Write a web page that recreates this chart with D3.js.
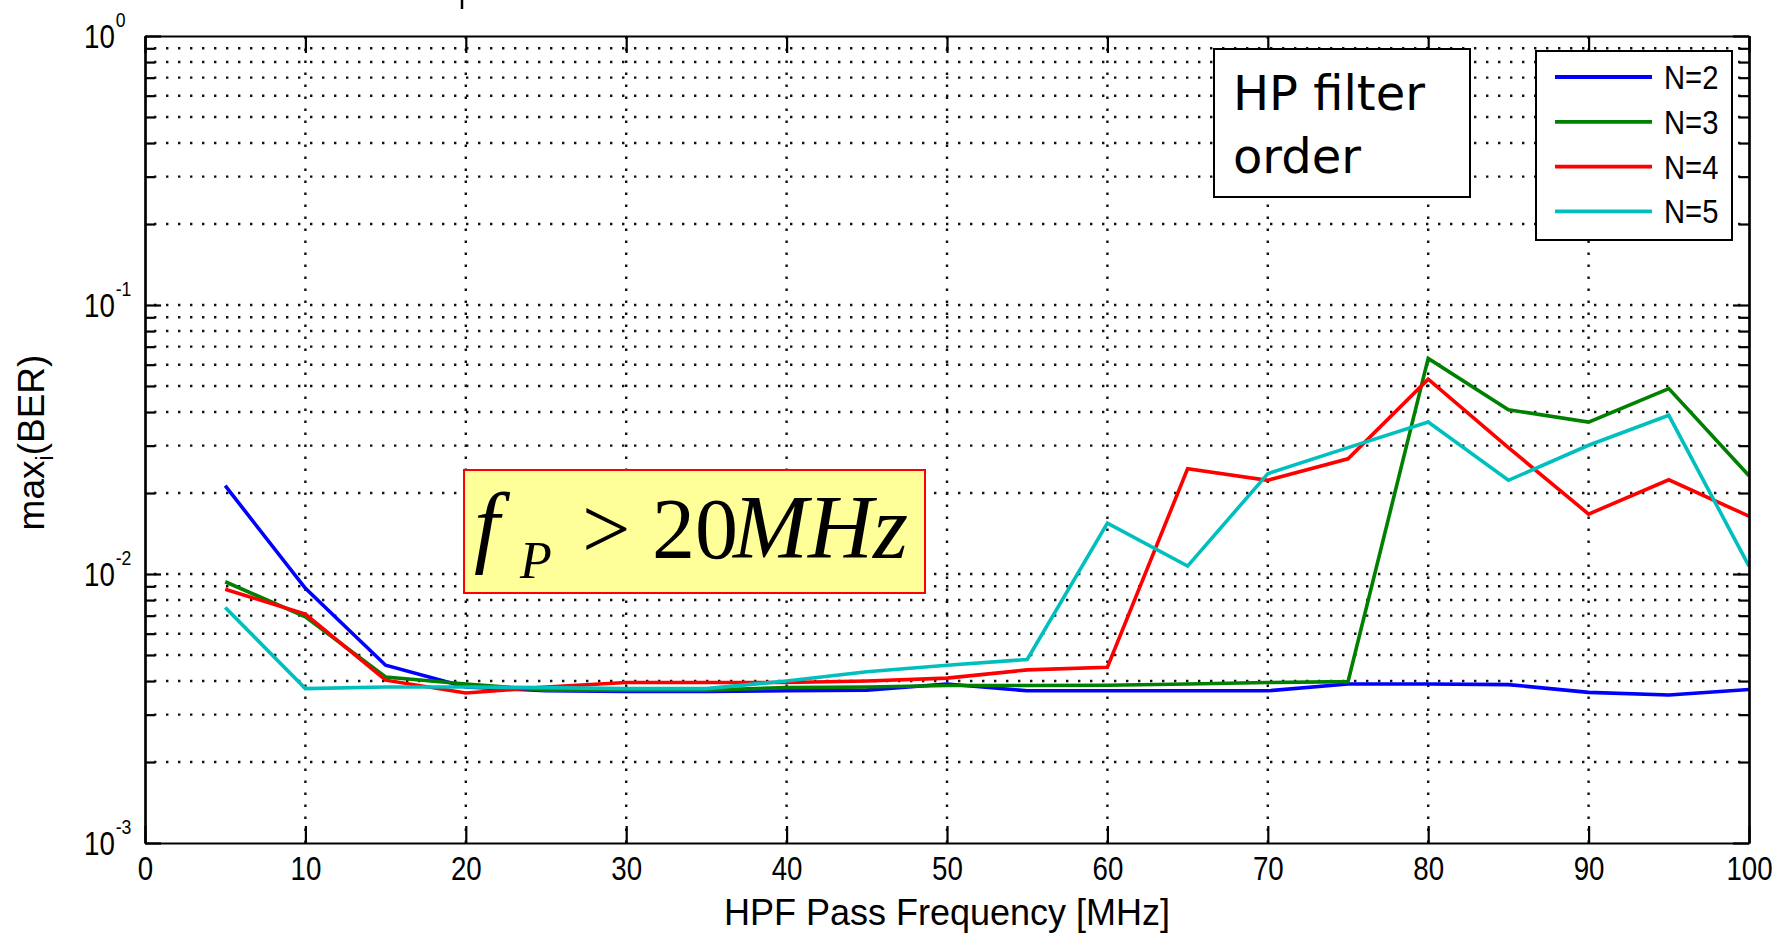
<!DOCTYPE html>
<html>
<head>
<meta charset="utf-8">
<script src="https://cdn.jsdelivr.net/npm/d3@7"></script>
<style>
  html, body { margin: 0; padding: 0; background: #fff; }
  svg { display: block; }
  .tick-label { font-family: "Liberation Sans", Arial, sans-serif; fill: #000; }
</style>
</head>
<body>
<svg id="chart" width="1775" height="935"></svg>
<script>
// HPF pass frequency sweep [MHz]
const freqs = [5, 10, 15, 20, 25, 30, 35, 40, 45, 50, 55, 60, 65, 70, 75, 80, 85, 90, 95, 100];

// max_i(BER) for each high-pass filter order
const berN2 = [0.0213, 0.00884, 0.00458, 0.0038, 0.00368, 0.00366, 0.00366, 0.00368, 0.0037, 0.0039,
               0.00368, 0.00368, 0.00368, 0.00368, 0.0039, 0.0039, 0.00388, 0.00363, 0.00355, 0.00372];
const berN3 = [0.00936, 0.00693, 0.00414, 0.0039, 0.0037, 0.0037, 0.0037, 0.00378, 0.0038, 0.00385,
               0.00385, 0.00386, 0.0039, 0.00395, 0.00398, 0.0633, 0.0408, 0.0367, 0.0489, 0.0232];
const berN4 = [0.00877, 0.0071, 0.00403, 0.00361, 0.0038, 0.00395, 0.00395, 0.00395, 0.004, 0.0041,
               0.0044, 0.0045, 0.0246, 0.0223, 0.0268, 0.053, 0.0295, 0.0167, 0.0224, 0.0164];
const berN5 = [0.00751, 0.00375, 0.0038, 0.0038, 0.00378, 0.00375, 0.00375, 0.004, 0.00433, 0.00458,
               0.00481, 0.01545, 0.0107, 0.0236, 0.0295, 0.0367, 0.0223, 0.0301, 0.0389, 0.0107];

const seriesNames = ["N=2", "N=3", "N=4", "N=5"];
const seriesColors = ["#0000ff", "#008000", "#ff0000", "#00bfbf"];

const xTicks = [0, 10, 20, 30, 40, 50, 60, 70, 80, 90, 100];
const yTickExponents = [-3, -2, -1, 0];

const xLabel = "HPF Pass Frequency [MHz]";
const noteText = ["HP filter", "order"];

// the axis font is drawn slightly condensed
const NARROW = 0.84;

const svg = d3.select("#chart");
svg.append("rect").attr("width", 1775).attr("height", 935).attr("fill", "#fff");

// plot area
const L = 145, R = 1749, T = 36, B = 843;
const x = d3.scaleLinear().domain([0, 100]).range([L, R]);
const y = d3.scaleLog().domain([1e-3, 1]).range([B, T]);

const yMajors = yTickExponents.map(e => Math.pow(10, e));
const yMinors = [];
for (let e = -3; e < 0; e++) {
  for (let m = 2; m <= 9; m++) yMinors.push(m * Math.pow(10, e));
}

// dotted grid (major + minor on the log axis, major on x)
const grid = svg.append("g").attr("stroke", "#111").attr("stroke-width", 2.4)
  .attr("stroke-dasharray", "2.4,9.6").attr("fill", "none");
grid.selectAll("line.h")
  .data(yMajors.concat(yMinors).filter(v => v > 1e-3 && v < 1))
  .join("line")
  .attr("x1", L + 9).attr("x2", R)
  .attr("y1", d => y(d)).attr("y2", d => y(d));
grid.selectAll("line.v")
  .data(xTicks.filter(v => v > 0 && v < 100))
  .join("line")
  .attr("y1", B).attr("y2", T)
  .attr("x1", d => x(d)).attr("x2", d => x(d));

// clipped data lines
svg.append("clipPath").attr("id", "plotClip")
  .append("rect").attr("x", L).attr("y", T).attr("width", R - L).attr("height", B - T);

const allSeries = [berN2, berN3, berN4, berN5].map((vals, i) => ({
  name: seriesNames[i],
  color: seriesColors[i],
  points: freqs.map((f, j) => ({ f, v: vals[j] }))
}));

const line = d3.line().x(d => x(d.f)).y(d => y(d.v));
svg.append("g").attr("clip-path", "url(#plotClip)")
  .selectAll("path")
  .data(allSeries)
  .join("path")
  .attr("fill", "none")
  .attr("stroke", d => d.color)
  .attr("stroke-width", 3.6)
  .attr("stroke-linejoin", "miter")
  .attr("d", d => line(d.points));

// axes with inward ticks on all four sides
function styleAxis(g) {
  g.selectAll("path.domain").attr("stroke", "#000").attr("stroke-width", 2.2);
  g.selectAll(".tick line").attr("stroke", "#000").attr("stroke-width", 2.2);
}
const xBottom = svg.append("g").attr("transform", `translate(0,${B})`)
  .call(d3.axisBottom(x).tickValues(xTicks).tickSizeInner(-17).tickSizeOuter(0).tickPadding(14)
    .tickFormat(d3.format("d")));
styleAxis(xBottom);
xBottom.selectAll("text").attr("class", "tick-label").attr("font-size", 33)
  .attr("font-family", null).attr("fill", "#000")
  .attr("transform", `scale(${NARROW},1)`);

const xTop = svg.append("g").attr("transform", `translate(0,${T})`)
  .call(d3.axisTop(x).tickValues(xTicks).tickSizeInner(-17).tickSizeOuter(0).tickFormat(""));
styleAxis(xTop);

const yLeft = svg.append("g").attr("transform", `translate(${L},0)`)
  .call(d3.axisLeft(y).tickValues(yMajors).tickSizeInner(-16).tickSizeOuter(0).tickFormat(""));
styleAxis(yLeft);
const yLeftMinor = svg.append("g").attr("transform", `translate(${L},0)`)
  .call(d3.axisLeft(y).tickValues(yMinors).tickSizeInner(-10).tickSizeOuter(0).tickFormat(""));
styleAxis(yLeftMinor);

const yRight = svg.append("g").attr("transform", `translate(${R},0)`)
  .call(d3.axisRight(y).tickValues(yMajors).tickSizeInner(-16).tickSizeOuter(0).tickFormat(""));
styleAxis(yRight);
const yRightMinor = svg.append("g").attr("transform", `translate(${R},0)`)
  .call(d3.axisRight(y).tickValues(yMinors).tickSizeInner(-10).tickSizeOuter(0).tickFormat(""));
styleAxis(yRightMinor);

// y tick labels as powers of ten
const yLab = svg.append("g").selectAll("text")
  .data(yTickExponents)
  .join("text")
  .attr("class", "tick-label")
  .attr("transform", d => `translate(84,${y(Math.pow(10, d)) + 12}) scale(${NARROW},1)`);
yLab.append("tspan").attr("font-size", 33).text("10");
yLab.append("tspan").attr("font-size", 21).attr("dx", 1).attr("dy", -21).text(d => String(d));

// axis titles
svg.append("text")
  .attr("x", (L + R) / 2).attr("y", 925)
  .attr("text-anchor", "middle")
  .attr("font-family", "'Liberation Sans', Arial, sans-serif")
  .attr("font-size", 36)
  .text(xLabel);

const yTitle = svg.append("text")
  .attr("transform", `translate(44,${(T + B) / 2 + 3}) rotate(-90)`)
  .attr("text-anchor", "middle")
  .attr("font-family", "'Liberation Sans', Arial, sans-serif")
  .attr("font-size", 37);
yTitle.append("tspan").text("max");
yTitle.append("tspan").attr("font-size", 23).attr("dy", 9).text("i");
yTitle.append("tspan").attr("dy", -9).text("(BER)");

// fragment of a title glyph cut off by the top edge
svg.append("line").attr("x1", 462).attr("x2", 462).attr("y1", 0).attr("y2", 9)
  .attr("stroke", "#000").attr("stroke-width", 2.5);

// note box: filter order
svg.append("rect").attr("x", 1214).attr("y", 49).attr("width", 256).attr("height", 148)
  .attr("fill", "#fff").attr("stroke", "#000").attr("stroke-width", 2);
svg.append("g").selectAll("text").data(noteText).join("text")
  .attr("x", 1233).attr("y", (d, i) => 110 + i * 63)
  .attr("font-family", "'DejaVu Sans', Verdana, sans-serif")
  .attr("font-size", 48)
  .text(d => d);

// legend
const lg = svg.append("g");
lg.append("rect").attr("x", 1536).attr("y", 51).attr("width", 196).attr("height", 189)
  .attr("fill", "#fff").attr("stroke", "#000").attr("stroke-width", 2);
const lgRow = lg.selectAll("g.row").data(allSeries).join("g")
  .attr("transform", (d, i) => `translate(0,${77 + i * 44.8})`);
lgRow.append("line").attr("x1", 1555).attr("x2", 1652).attr("y1", 0).attr("y2", 0)
  .attr("stroke", d => d.color).attr("stroke-width", 3.8);
lgRow.append("text").attr("class", "tick-label")
  .attr("transform", `translate(1664,12) scale(0.86,1)`)
  .attr("font-size", 34).text(d => d.name);

// pass-band annotation
svg.append("rect").attr("x", 464).attr("y", 470).attr("width", 461).attr("height", 123)
  .attr("fill", "#ffff99").attr("stroke", "#ff0000").attr("stroke-width", 2);
const serif = "'Liberation Serif', 'Times New Roman', serif";
const ann = svg.append("g").attr("font-family", serif).attr("fill", "#000");
ann.append("text").attr("x", 474).attr("y", 556).attr("font-size", 92).attr("font-style", "italic").text("f");
ann.append("text").attr("x", 520).attr("y", 578).attr("font-size", 52).attr("font-style", "italic").text("P");
ann.append("text").attr("x", 582).attr("y", 558).attr("font-size", 86).text(">");
ann.append("text").attr("x", 652).attr("y", 558).attr("font-size", 86).text("20");
ann.append("text").attr("x", 733).attr("y", 558).attr("font-size", 90).attr("font-style", "italic").text("MHz");
</script>
</body>
</html>
